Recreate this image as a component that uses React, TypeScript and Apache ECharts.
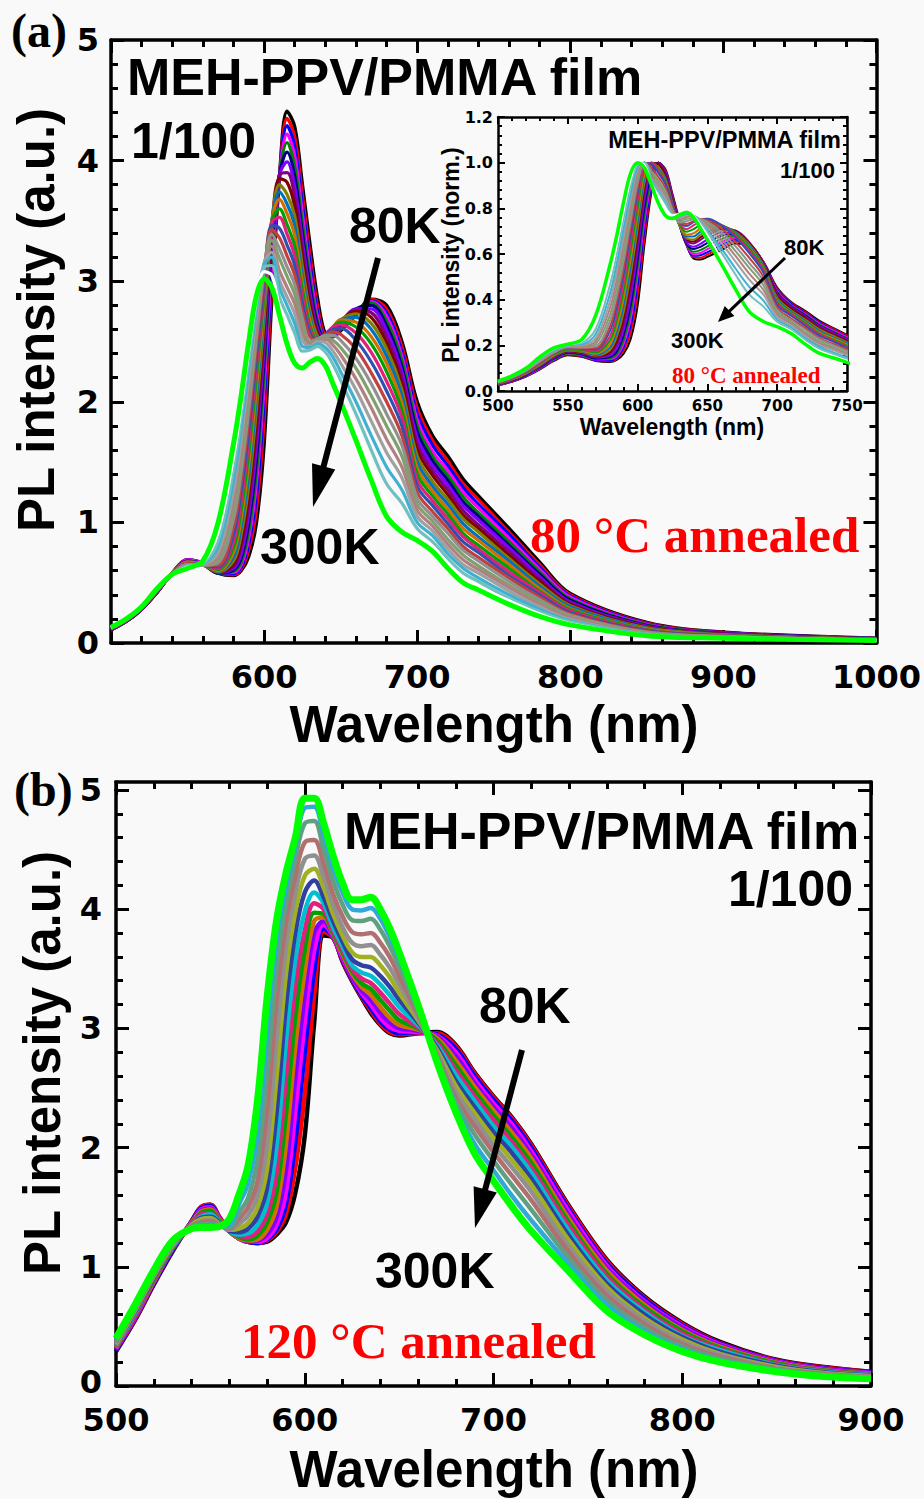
import React, { useEffect, useRef } from "react";
import * as echarts from "echarts";

// ---------- panel (a): 80 °C annealed film, spectra from 80 K (first) to 300 K (last) ----------
const wavelengthA = [500, 510, 520, 530, 540, 550, 560, 570, 580, 585, 590, 595, 600, 605, 610, 615, 620, 625, 630, 635, 640, 645, 650, 660, 670, 680, 690, 700, 710, 720, 730, 740, 760, 780, 800, 850, 900, 1000];

const pA01 = [0.11, 0.18, 0.28, 0.42, 0.58, 0.69, 0.66, 0.58, 0.56, 0.60, 0.72, 1.00, 1.65, 2.85, 3.85, 4.41, 4.28, 3.80, 3.30, 2.85, 2.56, 2.54, 2.59, 2.72, 2.85, 2.80, 2.50, 2.00, 1.72, 1.55, 1.36, 1.22, 0.95, 0.67, 0.41, 0.17, 0.09, 0.04];
const pA02 = [0.11, 0.18, 0.28, 0.42, 0.58, 0.69, 0.66, 0.58, 0.565, 0.61, 0.77, 1.10, 1.83, 2.95, 3.86, 4.35, 4.20, 3.72, 3.22, 2.79, 2.55, 2.54, 2.60, 2.73, 2.85, 2.77, 2.46, 1.95, 1.68, 1.51, 1.32, 1.19, 0.92, 0.65, 0.40, 0.165, 0.088, 0.039];
const pA03 = [0.11, 0.18, 0.28, 0.42, 0.58, 0.69, 0.66, 0.58, 0.575, 0.625, 0.82, 1.21, 1.99, 3.05, 3.86, 4.29, 4.12, 3.64, 3.15, 2.74, 2.54, 2.55, 2.61, 2.74, 2.84, 2.74, 2.42, 1.90, 1.64, 1.47, 1.29, 1.15, 0.90, 0.63, 0.39, 0.16, 0.086, 0.038];
const pA04 = [0.11, 0.18, 0.28, 0.42, 0.58, 0.69, 0.66, 0.58, 0.585, 0.645, 0.87, 1.32, 2.12, 3.14, 3.87, 4.22, 4.04, 3.56, 3.08, 2.70, 2.53, 2.55, 2.62, 2.75, 2.83, 2.71, 2.38, 1.85, 1.59, 1.43, 1.25, 1.12, 0.87, 0.61, 0.38, 0.155, 0.083, 0.037];
const pA05 = [0.11, 0.18, 0.28, 0.42, 0.58, 0.68, 0.655, 0.58, 0.595, 0.67, 0.93, 1.42, 2.24, 3.22, 3.87, 4.15, 3.95, 3.48, 3.02, 2.66, 2.53, 2.56, 2.63, 2.76, 2.82, 2.67, 2.34, 1.80, 1.55, 1.39, 1.21, 1.08, 0.84, 0.59, 0.365, 0.15, 0.081, 0.036];
const pA06 = [0.11, 0.18, 0.28, 0.42, 0.58, 0.68, 0.655, 0.58, 0.605, 0.70, 1.00, 1.52, 2.34, 3.29, 3.88, 4.07, 3.87, 3.40, 2.96, 2.63, 2.53, 2.57, 2.64, 2.77, 2.80, 2.63, 2.29, 1.75, 1.51, 1.35, 1.17, 1.05, 0.81, 0.57, 0.355, 0.145, 0.079, 0.035];
const pA07 = [0.11, 0.18, 0.28, 0.42, 0.58, 0.68, 0.655, 0.585, 0.62, 0.74, 1.07, 1.63, 2.44, 3.35, 3.88, 3.99, 3.78, 3.33, 2.90, 2.60, 2.52, 2.57, 2.65, 2.77, 2.77, 2.59, 2.25, 1.70, 1.47, 1.31, 1.14, 1.02, 0.79, 0.55, 0.34, 0.14, 0.077, 0.034];
const pA08 = [0.11, 0.18, 0.28, 0.42, 0.58, 0.68, 0.65, 0.585, 0.635, 0.79, 1.15, 1.74, 2.53, 3.40, 3.88, 3.90, 3.70, 3.26, 2.85, 2.58, 2.52, 2.58, 2.66, 2.76, 2.74, 2.54, 2.20, 1.65, 1.43, 1.27, 1.10, 0.98, 0.76, 0.53, 0.33, 0.135, 0.075, 0.033];
const pA09 = [0.12, 0.19, 0.29, 0.43, 0.58, 0.67, 0.65, 0.59, 0.655, 0.84, 1.23, 1.84, 2.61, 3.44, 3.85, 3.82, 3.62, 3.19, 2.80, 2.56, 2.52, 2.59, 2.67, 2.75, 2.70, 2.49, 2.15, 1.60, 1.39, 1.23, 1.06, 0.95, 0.73, 0.51, 0.32, 0.13, 0.072, 0.033];
const pA10 = [0.12, 0.19, 0.29, 0.43, 0.58, 0.67, 0.65, 0.59, 0.68, 0.90, 1.31, 1.94, 2.69, 3.47, 3.80, 3.72, 3.54, 3.12, 2.75, 2.54, 2.52, 2.60, 2.68, 2.73, 2.65, 2.44, 2.10, 1.55, 1.34, 1.19, 1.03, 0.92, 0.70, 0.49, 0.31, 0.125, 0.07, 0.032];
const pA11 = [0.12, 0.19, 0.29, 0.43, 0.58, 0.67, 0.65, 0.595, 0.71, 0.96, 1.40, 2.03, 2.76, 3.49, 3.74, 3.64, 3.46, 3.05, 2.71, 2.53, 2.53, 2.61, 2.68, 2.70, 2.60, 2.38, 2.05, 1.50, 1.30, 1.15, 0.99, 0.88, 0.68, 0.47, 0.30, 0.12, 0.068, 0.031];
const pA12 = [0.12, 0.19, 0.29, 0.43, 0.58, 0.67, 0.65, 0.60, 0.75, 1.03, 1.49, 2.12, 2.83, 3.50, 3.68, 3.56, 3.38, 2.99, 2.67, 2.52, 2.54, 2.62, 2.68, 2.66, 2.54, 2.32, 1.99, 1.45, 1.26, 1.11, 0.95, 0.85, 0.65, 0.45, 0.285, 0.115, 0.066, 0.03];
const pA13 = [0.12, 0.19, 0.29, 0.43, 0.58, 0.66, 0.645, 0.61, 0.79, 1.10, 1.58, 2.21, 2.89, 3.50, 3.60, 3.47, 3.29, 2.93, 2.63, 2.51, 2.55, 2.62, 2.66, 2.62, 2.48, 2.25, 1.93, 1.40, 1.22, 1.07, 0.91, 0.81, 0.62, 0.43, 0.275, 0.11, 0.063, 0.029];
const pA14 = [0.12, 0.19, 0.29, 0.43, 0.58, 0.66, 0.645, 0.62, 0.84, 1.18, 1.67, 2.30, 2.95, 3.49, 3.53, 3.39, 3.21, 2.87, 2.60, 2.50, 2.56, 2.62, 2.64, 2.57, 2.41, 2.17, 1.87, 1.35, 1.18, 1.03, 0.88, 0.78, 0.59, 0.42, 0.265, 0.105, 0.061, 0.028];
const pA15 = [0.12, 0.19, 0.29, 0.43, 0.57, 0.66, 0.645, 0.63, 0.90, 1.26, 1.76, 2.38, 3.00, 3.46, 3.44, 3.30, 3.13, 2.81, 2.57, 2.50, 2.56, 2.60, 2.61, 2.51, 2.33, 2.09, 1.80, 1.30, 1.14, 0.99, 0.84, 0.75, 0.56, 0.40, 0.25, 0.10, 0.059, 0.027];
const pA16 = [0.12, 0.19, 0.29, 0.43, 0.57, 0.66, 0.645, 0.645, 0.96, 1.34, 1.85, 2.46, 3.05, 3.43, 3.36, 3.21, 3.05, 2.75, 2.54, 2.51, 2.55, 2.58, 2.56, 2.44, 2.24, 2.00, 1.72, 1.25, 1.09, 0.95, 0.80, 0.71, 0.54, 0.38, 0.24, 0.095, 0.057, 0.026];
const pA17 = [0.13, 0.20, 0.30, 0.44, 0.57, 0.65, 0.645, 0.665, 1.03, 1.42, 1.94, 2.53, 3.09, 3.39, 3.27, 3.12, 2.97, 2.69, 2.50, 2.52, 2.55, 2.55, 2.51, 2.36, 2.15, 1.90, 1.64, 1.20, 1.05, 0.91, 0.77, 0.68, 0.51, 0.36, 0.23, 0.09, 0.055, 0.025];
const pA18 = [0.13, 0.20, 0.30, 0.44, 0.57, 0.65, 0.645, 0.69, 1.10, 1.51, 2.03, 2.60, 3.12, 3.34, 3.19, 3.04, 2.89, 2.63, 2.48, 2.52, 2.53, 2.51, 2.45, 2.28, 2.05, 1.80, 1.55, 1.15, 1.01, 0.86, 0.73, 0.64, 0.48, 0.34, 0.22, 0.085, 0.052, 0.025];
const pA19 = [0.13, 0.20, 0.30, 0.44, 0.57, 0.65, 0.65, 0.72, 1.18, 1.60, 2.12, 2.66, 3.14, 3.29, 3.09, 2.95, 2.81, 2.57, 2.47, 2.51, 2.52, 2.47, 2.39, 2.19, 1.95, 1.69, 1.46, 1.10, 0.97, 0.82, 0.69, 0.61, 0.46, 0.32, 0.21, 0.08, 0.05, 0.024];
const pA20 = [0.13, 0.20, 0.30, 0.44, 0.57, 0.64, 0.65, 0.75, 1.26, 1.69, 2.20, 2.72, 3.15, 3.24, 3.01, 2.87, 2.73, 2.51, 2.46, 2.50, 2.49, 2.42, 2.32, 2.10, 1.84, 1.58, 1.37, 1.05, 0.93, 0.78, 0.65, 0.58, 0.43, 0.30, 0.195, 0.075, 0.048, 0.023];
const pA21 = [0.13, 0.20, 0.30, 0.45, 0.57, 0.64, 0.655, 0.80, 1.35, 1.78, 2.28, 2.77, 3.14, 3.20, 2.95, 2.80, 2.65, 2.46, 2.45, 2.48, 2.45, 2.37, 2.25, 2.00, 1.72, 1.46, 1.27, 1.00, 0.89, 0.74, 0.62, 0.54, 0.40, 0.28, 0.185, 0.07, 0.046, 0.022];
const pA22 = [0.13, 0.20, 0.30, 0.45, 0.57, 0.635, 0.66, 0.85, 1.44, 1.87, 2.36, 2.81, 3.12, 3.13, 2.87, 2.72, 2.57, 2.42, 2.43, 2.46, 2.41, 2.31, 2.18, 1.90, 1.60, 1.32, 1.16, 0.95, 0.84, 0.70, 0.58, 0.51, 0.37, 0.26, 0.175, 0.067, 0.044, 0.021];
const pA23 = [0.13, 0.20, 0.30, 0.45, 0.57, 0.63, 0.67, 0.92, 1.54, 1.96, 2.43, 2.85, 3.08, 3.05, 2.79, 2.63, 2.47, 2.37, 2.39, 2.42, 2.37, 2.24, 2.10, 1.79, 1.48, 1.19, 1.04, 0.90, 0.80, 0.66, 0.54, 0.47, 0.35, 0.24, 0.16, 0.063, 0.042, 0.02];
const pA24 = [0.13, 0.20, 0.30, 0.45, 0.57, 0.62, 0.68, 1.00, 1.65, 2.05, 2.50, 2.88, 3.02, 2.95, 2.72, 2.48, 2.32, 2.28, 2.33, 2.36, 2.30, 2.15, 2.00, 1.68, 1.35, 1.05, 0.92, 0.85, 0.76, 0.62, 0.50, 0.44, 0.32, 0.22, 0.15, 0.06, 0.04, 0.02];

const spectraA = [pA01, pA02, pA03, pA04, pA05, pA06, pA07, pA08, pA09, pA10, pA11, pA12, pA13, pA14, pA15, pA16, pA17, pA18, pA19, pA20, pA21, pA22, pA23, pA24];
const colorsA = [
  "#000000", "#ff0000", "#0000ff", "#ff00ff", "#008000", "#000080", "#8000ff", "#800080",
  "#800000", "#808000", "#0070c0", "#d07000", "#00a000", "#e0207a", "#3050b0", "#c04040",
  "#909090", "#80a070", "#b08080", "#a0a0a0", "#40b0d0", "#70c0c0", "#ffffff", "#00ff00",
];

// ---------- panel (b): 120 °C annealed film, spectra from 80 K (first) to 300 K (last) ----------
const wavelengthB = [500, 510, 520, 530, 540, 545, 550, 555, 560, 565, 570, 575, 580, 585, 590, 595, 600, 605, 610, 615, 620, 625, 630, 635, 640, 645, 650, 660, 670, 680, 690, 700, 710, 720, 740, 760, 780, 800, 820, 850, 875, 900];

const pB01 = [0.29, 0.55, 0.85, 1.13, 1.38, 1.50, 1.52, 1.41, 1.30, 1.24, 1.21, 1.20, 1.21, 1.27, 1.37, 1.62, 2.10, 3.05, 3.78, 3.76, 3.56, 3.40, 3.26, 3.13, 3.03, 2.96, 2.94, 2.96, 2.97, 2.86, 2.63, 2.43, 2.25, 2.03, 1.51, 1.06, 0.75, 0.53, 0.37, 0.22, 0.16, 0.12];
const pB02 = [0.30, 0.56, 0.86, 1.14, 1.38, 1.50, 1.52, 1.41, 1.30, 1.24, 1.21, 1.20, 1.22, 1.29, 1.44, 1.83, 2.45, 3.28, 3.81, 3.76, 3.57, 3.41, 3.27, 3.15, 3.04, 2.97, 2.95, 2.96, 2.96, 2.85, 2.62, 2.42, 2.24, 2.02, 1.50, 1.05, 0.74, 0.52, 0.36, 0.215, 0.155, 0.118];
const pB03 = [0.30, 0.57, 0.86, 1.14, 1.38, 1.49, 1.51, 1.40, 1.30, 1.24, 1.21, 1.20, 1.23, 1.31, 1.52, 2.05, 2.80, 3.48, 3.84, 3.77, 3.58, 3.42, 3.28, 3.17, 3.06, 2.99, 2.96, 2.97, 2.95, 2.83, 2.60, 2.40, 2.22, 2.00, 1.48, 1.03, 0.73, 0.51, 0.355, 0.21, 0.15, 0.115];
const pB04 = [0.31, 0.57, 0.87, 1.15, 1.37, 1.48, 1.50, 1.40, 1.30, 1.24, 1.21, 1.21, 1.24, 1.35, 1.62, 2.30, 3.05, 3.65, 3.87, 3.77, 3.59, 3.43, 3.30, 3.20, 3.09, 3.01, 2.98, 2.97, 2.94, 2.80, 2.57, 2.37, 2.19, 1.97, 1.46, 1.01, 0.71, 0.50, 0.35, 0.205, 0.145, 0.11];
const pB05 = [0.31, 0.58, 0.88, 1.15, 1.37, 1.47, 1.49, 1.39, 1.30, 1.24, 1.21, 1.22, 1.27, 1.41, 1.80, 2.58, 3.28, 3.80, 3.90, 3.78, 3.61, 3.44, 3.32, 3.24, 3.13, 3.05, 3.00, 2.98, 2.93, 2.77, 2.54, 2.34, 2.16, 1.94, 1.43, 0.99, 0.70, 0.49, 0.34, 0.20, 0.14, 0.107];
const pB06 = [0.32, 0.59, 0.88, 1.16, 1.37, 1.46, 1.48, 1.39, 1.30, 1.24, 1.22, 1.23, 1.31, 1.50, 2.02, 2.85, 3.48, 3.90, 3.93, 3.79, 3.62, 3.46, 3.35, 3.28, 3.18, 3.09, 3.03, 2.99, 2.92, 2.73, 2.51, 2.31, 2.12, 1.91, 1.40, 0.97, 0.68, 0.47, 0.33, 0.195, 0.135, 0.103];
const pB07 = [0.33, 0.60, 0.89, 1.16, 1.36, 1.45, 1.47, 1.38, 1.30, 1.25, 1.23, 1.26, 1.37, 1.62, 2.28, 3.10, 3.66, 3.97, 3.96, 3.80, 3.64, 3.48, 3.38, 3.33, 3.24, 3.15, 3.07, 3.00, 2.90, 2.69, 2.47, 2.27, 2.08, 1.87, 1.37, 0.94, 0.66, 0.46, 0.32, 0.19, 0.13, 0.10];
const pB08 = [0.33, 0.60, 0.90, 1.17, 1.36, 1.44, 1.45, 1.38, 1.30, 1.26, 1.25, 1.30, 1.44, 1.78, 2.58, 3.35, 3.82, 4.05, 4.00, 3.82, 3.66, 3.50, 3.42, 3.38, 3.30, 3.21, 3.12, 3.01, 2.88, 2.65, 2.43, 2.23, 2.04, 1.83, 1.34, 0.92, 0.64, 0.44, 0.31, 0.18, 0.125, 0.096];
const pB09 = [0.34, 0.61, 0.91, 1.17, 1.35, 1.42, 1.44, 1.37, 1.30, 1.27, 1.28, 1.35, 1.53, 2.00, 2.88, 3.58, 3.98, 4.14, 4.05, 3.85, 3.69, 3.53, 3.47, 3.44, 3.37, 3.28, 3.18, 3.03, 2.86, 2.61, 2.39, 2.18, 2.00, 1.79, 1.30, 0.89, 0.62, 0.42, 0.30, 0.175, 0.12, 0.092];
const pB10 = [0.35, 0.62, 0.91, 1.18, 1.35, 1.41, 1.42, 1.37, 1.30, 1.29, 1.32, 1.42, 1.66, 2.28, 3.18, 3.80, 4.14, 4.24, 4.10, 3.90, 3.73, 3.58, 3.53, 3.51, 3.44, 3.35, 3.24, 3.05, 2.84, 2.56, 2.34, 2.13, 1.95, 1.74, 1.26, 0.86, 0.60, 0.41, 0.285, 0.17, 0.115, 0.088];
const pB11 = [0.35, 0.63, 0.92, 1.18, 1.35, 1.40, 1.41, 1.36, 1.31, 1.32, 1.37, 1.50, 1.82, 2.58, 3.45, 3.98, 4.28, 4.34, 4.18, 3.96, 3.78, 3.64, 3.60, 3.60, 3.53, 3.43, 3.30, 3.07, 2.82, 2.52, 2.29, 2.08, 1.89, 1.69, 1.22, 0.83, 0.57, 0.39, 0.27, 0.16, 0.11, 0.084];
const pB12 = [0.36, 0.64, 0.93, 1.19, 1.34, 1.38, 1.39, 1.36, 1.31, 1.36, 1.43, 1.60, 2.02, 2.90, 3.68, 4.14, 4.42, 4.45, 4.27, 4.04, 3.85, 3.72, 3.69, 3.70, 3.62, 3.51, 3.37, 3.09, 2.80, 2.47, 2.24, 2.02, 1.83, 1.63, 1.17, 0.80, 0.55, 0.37, 0.26, 0.15, 0.105, 0.08];
const pB13 = [0.37, 0.65, 0.94, 1.20, 1.34, 1.37, 1.38, 1.35, 1.32, 1.40, 1.50, 1.72, 2.30, 3.22, 3.88, 4.28, 4.56, 4.58, 4.38, 4.13, 3.94, 3.81, 3.79, 3.80, 3.72, 3.60, 3.44, 3.12, 2.78, 2.42, 2.18, 1.96, 1.76, 1.56, 1.12, 0.76, 0.52, 0.35, 0.245, 0.145, 0.10, 0.075];
const pB14 = [0.38, 0.66, 0.95, 1.20, 1.33, 1.36, 1.36, 1.35, 1.33, 1.45, 1.58, 1.90, 2.62, 3.50, 4.05, 4.42, 4.72, 4.74, 4.50, 4.24, 4.04, 3.91, 3.90, 3.92, 3.83, 3.69, 3.52, 3.15, 2.76, 2.38, 2.11, 1.89, 1.68, 1.48, 1.07, 0.72, 0.49, 0.33, 0.23, 0.14, 0.092, 0.07];
const pB15 = [0.39, 0.67, 0.96, 1.21, 1.33, 1.34, 1.35, 1.34, 1.35, 1.52, 1.70, 2.12, 2.95, 3.72, 4.18, 4.52, 4.85, 4.86, 4.62, 4.35, 4.14, 4.00, 3.99, 4.01, 3.92, 3.77, 3.59, 3.18, 2.74, 2.34, 2.03, 1.81, 1.59, 1.39, 1.02, 0.68, 0.46, 0.31, 0.215, 0.13, 0.086, 0.065];
const pB16 = [0.40, 0.68, 0.97, 1.22, 1.32, 1.33, 1.33, 1.34, 1.40, 1.60, 1.85, 2.40, 3.25, 3.90, 4.30, 4.60, 4.93, 4.93, 4.72, 4.45, 4.22, 4.08, 4.08, 4.10, 4.00, 3.84, 3.64, 3.20, 2.72, 2.30, 1.95, 1.72, 1.50, 1.30, 0.96, 0.63, 0.43, 0.29, 0.20, 0.12, 0.08, 0.06];

const spectraB = [pB01, pB02, pB03, pB04, pB05, pB06, pB07, pB08, pB09, pB10, pB11, pB12, pB13, pB14, pB15, pB16];
const colorsB = ["#000000", "#ff0000", "#0000ff", "#ff00ff", "#8000ff", "#d07000", "#00a000", "#e0207a", "#00c0d0", "#3040a0", "#a0b020", "#909090", "#b07070", "#60a080", "#30a8d8", "#00ff00"];

// ---------- fonts and helpers ----------
const BG = "#f9f9f9";
const TICK_FONT = "'DejaVu Sans', sans-serif";
const SANS = "'Liberation Sans', Arial, sans-serif";
const SERIF = "'Liberation Serif', 'Times New Roman', serif";
// distance from the alphabetic baseline to the central baseline, in em
const CENTRAL = { sans: 0.3465, serif: 0.3375 };

type AxisOpts = {
  min: number; max: number; interval: number; split: number;
  show: boolean; size: number; margin: number; lineHeight?: number;
  major: number; minor: number; axisW: number; tickW: number;
  fmt?: (v: number) => string; offset?: number; rich?: any;
};

function frameAxis(gridIndex: number, position: string, o: AxisOpts) {
  return {
    type: "value", gridIndex, position, min: o.min, max: o.max, interval: o.interval,
    offset: o.offset ?? 0,
    axisLine: { show: true, onZero: false, lineStyle: { color: "#000", width: o.axisW } },
    axisTick: { show: true, inside: true, length: o.major, lineStyle: { color: "#000", width: o.tickW } },
    minorTick: { show: true, splitNumber: o.split, length: o.minor, lineStyle: { color: "#000", width: o.tickW } },
    splitLine: { show: false },
    minorSplitLine: { show: false },
    axisLabel: {
      show: o.show, margin: o.margin, fontSize: o.size, fontWeight: "bold",
      fontFamily: TICK_FONT, color: "#000", formatter: o.fmt,
      lineHeight: o.lineHeight ?? Math.round(o.size * 0.8),
      rich: o.rich,
    },
    axisPointer: { show: false },
  };
}

function text(str: string, x: number, baseline: number, size: number, kind: "sans" | "serif", opt: any = {}) {
  const family = kind === "sans" ? SANS : SERIF;
  const align = opt.align ?? "left";
  return {
    type: "text", x, y: baseline - CENTRAL[kind] * size, z: 60, silent: true,
    style: {
      text: str, font: `bold ${size}px ${family}`, fill: opt.fill ?? "#000",
      lineHeight: Math.round(size * 0.8),
      textAlign: align, align, textVerticalAlign: "middle", verticalAlign: "middle",
    },
  };
}

// rotated axis title, placed by its centre
function vtitle(str: string, cx: number, cy: number, size: number) {
  return {
    type: "text", x: cx, y: cy, rotation: Math.PI / 2, z: 60, silent: true,
    style: {
      text: str, font: `bold ${size}px ${SANS}`, fill: "#000",
      lineHeight: Math.round(size * 0.8),
      textAlign: "center", align: "center", textVerticalAlign: "middle", verticalAlign: "middle",
    },
  };
}

function arrow(x0: number, y0: number, x1: number, y1: number, w: number, headLen: number, headHalf: number) {
  const dx = x1 - x0, dy = y1 - y0;
  const len = Math.hypot(dx, dy);
  const ux = dx / len, uy = dy / len;
  const bx = x1 - ux * headLen, by = y1 - uy * headLen;
  const nx = -uy, ny = ux;
  return [
    { type: "line", z: 60, silent: true, shape: { x1: x0, y1: y0, x2: bx + ux * 2, y2: by + uy * 2 }, style: { stroke: "#000", lineWidth: w } },
    {
      type: "polygon", z: 60, silent: true,
      shape: { points: [[x1, y1], [bx + nx * headHalf, by + ny * headHalf], [bx - nx * headHalf, by - ny * headHalf]] },
      style: { fill: "#000" },
    },
  ];
}

// the inset shows each spectrum divided by its own maximum
function normalise(row: number[]) {
  const peak = Math.max(...row);
  return row.map((v) => v / peak);
}

function lineSeries(xs: number[], ys: number[], color: string, width: number, xi: number, yi: number, clip: boolean) {
  return {
    type: "line", xAxisIndex: xi, yAxisIndex: yi,
    data: xs.map((x, i) => [x, ys[i]]),
    smooth: 0.35, symbol: "none", showSymbol: false, silent: true, clip,
    lineStyle: { color, width }, z: 3,
  };
}

function buildOption() {
  const big = { size: 32, major: 13, minor: 7, axisW: 3.5, tickW: 3, lineHeight: 26 };
  const small = { size: 15, major: 7, minor: 4, axisW: 2.5, tickW: 2 };
  // the zero of panel (b) sits a little higher so that it clears the "500" below it
  const zeroRich = {
    lo: { fontSize: 32, fontWeight: "bold", fontFamily: TICK_FONT, color: "#000", lineHeight: 26, padding: [0, 0, 8, 0] },
  };

  const xAxis = [
    frameAxis(0, "bottom", { ...big, min: 500, max: 1000, interval: 100, split: 5, show: true, margin: 21, fmt: (v) => (v === 500 ? "" : String(v)) }),
    frameAxis(0, "top", { ...big, min: 500, max: 1000, interval: 100, split: 5, show: false, margin: 0 }),
    frameAxis(1, "bottom", { ...small, min: 500, max: 750, interval: 50, split: 5, show: true, margin: 9, fmt: (v) => String(v) }),
    frameAxis(1, "top", { ...small, min: 500, max: 750, interval: 50, split: 5, show: false, margin: 0 }),
    frameAxis(2, "bottom", { ...big, min: 500, max: 900, interval: 100, split: 5, show: true, margin: 21, fmt: (v) => String(v) }),
    frameAxis(2, "top", { ...big, min: 500, max: 900, interval: 100, split: 5, show: false, margin: 0, offset: 8 }),
  ];
  const yAxis = [
    frameAxis(0, "left", { ...big, min: 0, max: 5, interval: 1, split: 5, show: true, margin: 12, fmt: (v) => String(v) }),
    frameAxis(0, "right", { ...big, min: 0, max: 5, interval: 1, split: 5, show: false, margin: 0 }),
    frameAxis(1, "left", { ...small, size: 16, min: 0, max: 1.2, interval: 0.2, split: 5, show: true, margin: 5, fmt: (v) => v.toFixed(1) }),
    frameAxis(1, "right", { ...small, min: 0, max: 1.2, interval: 0.2, split: 5, show: false, margin: 0 }),
    frameAxis(2, "left", { ...big, min: 0, max: 5, interval: 1, split: 5, show: true, margin: 14, rich: zeroRich, fmt: (v) => (v === 0 ? "{lo|0}" : String(v)) }),
    frameAxis(2, "right", { ...big, min: 0, max: 5, interval: 1, split: 5, show: false, margin: 0 }),
  ];

  const series: any[] = [];
  const lastA = spectraA.length - 1;
  spectraA.forEach((row, i) => {
    series.push(lineSeries(wavelengthA, row, colorsA[i], i === lastA ? 5 : i === 0 ? 3.5 : 3.2, 0, 0, false));
  });
  spectraA.forEach((row, i) => {
    series.push(lineSeries(wavelengthA, normalise(row), colorsA[i], i === lastA ? 3.5 : 2, 2, 2, true));
  });
  const lastB = spectraB.length - 1;
  spectraB.forEach((row, i) => {
    series.push(lineSeries(wavelengthB, row, colorsB[i], i === lastB ? 7 : 4.5, 4, 4, false));
  });

  const graphic: any[] = [
    // panel (a)
    text("(a)", 11, 47, 48, "serif"),
    text("MEH-PPV/PMMA film", 127, 95, 52, "sans"),
    text("1/100", 131, 158, 50, "sans"),
    text("80K", 349, 243, 50, "sans"),
    text("300K", 260, 564, 50, "sans"),
    text("80 °C annealed", 530, 552, 51, "serif", { fill: "#ff0000" }),
    ...arrow(378, 258, 313, 507, 6, 42, 12),
    text("Wavelength (nm)", 494, 742, 51, "sans", { align: "center" }),
    vtitle("PL intensity (a.u.)", 36, 320, 51),
    // inset
    text("MEH-PPV/PMMA film", 841, 148, 23.5, "sans", { align: "right" }),
    text("1/100", 835, 178, 22, "sans", { align: "right" }),
    text("80K", 784, 255, 22, "sans"),
    text("300K", 671, 348, 22, "sans"),
    text("80 °C annealed", 672, 383, 23, "serif", { fill: "#ff0000" }),
    ...arrow(785, 258, 718, 322, 3, 16, 7),
    text("Wavelength (nm)", 672, 435, 23, "sans", { align: "center" }),
    vtitle("PL intensity (norm.)", 451, 255, 23),
    // panel (b)
    text("(b)", 14, 806, 48, "serif"),
    text("MEH-PPV/PMMA film", 344, 849, 52, "sans"),
    text("1/100", 853, 906, 50, "sans", { align: "right" }),
    text("80K", 479, 1023, 50, "sans"),
    text("300K", 375, 1288, 50, "sans"),
    text("120 °C annealed", 241, 1358, 51, "serif", { fill: "#ff0000" }),
    ...arrow(522, 1050, 475, 1228, 6, 40, 12),
    text("Wavelength (nm)", 494, 1487, 51, "sans", { align: "center" }),
    vtitle("PL intensity (a.u.)", 42, 1063, 51),
    // frame corners above the y range of panel (b)
    { type: "line", z: 5, silent: true, shape: { x1: 116, y1: 780.5, x2: 116, y2: 791 }, style: { stroke: "#000", lineWidth: 3.5 } },
    { type: "line", z: 5, silent: true, shape: { x1: 871, y1: 780.5, x2: 871, y2: 791 }, style: { stroke: "#000", lineWidth: 3.5 } },
  ];

  return {
    animation: false,
    backgroundColor: BG,
    grid: [
      { left: 111, top: 40, width: 766, height: 603, containLabel: false },
      { left: 498, top: 117, width: 349, height: 274, containLabel: false },
      { left: 116, top: 790, width: 755, height: 596, containLabel: false },
    ],
    xAxis,
    yAxis,
    series,
    graphic,
  };
}

export default function App() {
  const ref = useRef<HTMLDivElement>(null);
  useEffect(() => {
    if (!ref.current) return;
    const chart = echarts.init(ref.current, null, { renderer: "svg" });
    chart.setOption(buildOption() as any);
    return () => chart.dispose();
  }, []);
  return (
    <div
      ref={ref}
      style={{ position: "absolute", left: 0, top: 0, width: 924, height: 1499, background: BG }}
    />
  );
}
